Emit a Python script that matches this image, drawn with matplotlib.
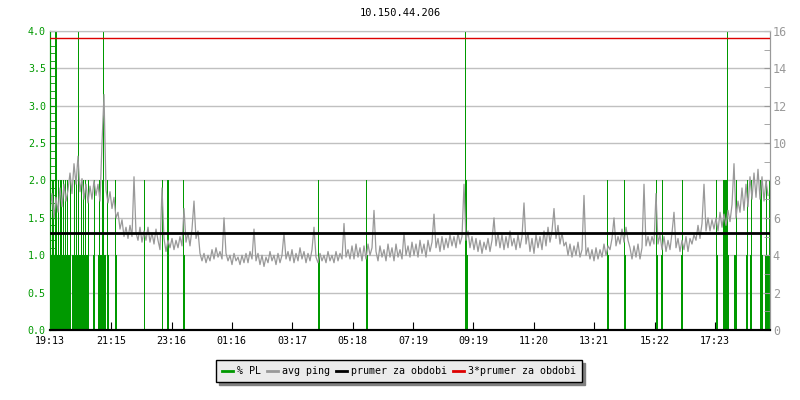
import numpy as np
import matplotlib
matplotlib.use("Agg")
import matplotlib.pyplot as plt
from matplotlib.lines import Line2D
from matplotlib.ticker import MultipleLocator, FormatStrFormatter

# -------------------------------------------------
# Data (minutes since 19:13)
# -------------------------------------------------

TITLE = "10.150.44.206"

tick_minutes = [0, 122, 243, 363, 484, 605, 726, 846, 967, 1088, 1209, 1330]
tick_labels = ["19:13", "21:15", "23:16", "01:16", "03:17", "05:18",
               "07:19", "09:19", "11:20", "13:21", "15:22", "17:23"]

SAMPLE_MIN = 4

# avg ping [ms], one sample every SAMPLE_MIN minutes
ping_ms = [
    6.4, 7.3, 6.0, 7.1, 6.3, 7.6, 6.6, 7.8, 6.9, 7.5, 8.4, 7.3, 8.9, 7.8, 9.3,
    7.4, 8.1, 7.0, 7.8, 6.8, 7.7, 7.0, 8.0, 7.2, 7.8, 6.9, 10.0, 12.6, 7.5, 6.8,
    7.4, 6.5, 7.1, 6.0, 6.3, 5.4, 5.9, 5.0, 5.5, 4.9, 5.6, 5.0, 8.2, 5.2, 4.8,
    5.5, 4.7, 5.3, 4.8, 5.5, 4.7, 5.2, 4.6, 5.4, 4.8, 4.3, 7.6, 4.9, 4.2, 4.8,
    4.4, 4.9, 4.3, 4.8, 4.4, 5.0, 4.5, 6.5, 4.7, 5.2, 4.5, 5.4, 6.9, 4.9, 5.3,
    4.1, 3.7, 4.1, 3.6, 4.0, 3.7, 4.3, 3.8, 4.4, 3.9, 4.2, 3.8, 6.0, 4.1, 3.7,
    4.0, 3.5, 4.1, 3.7, 3.9, 3.5, 4.0, 3.6, 4.1, 3.6, 4.2, 3.8, 5.4, 3.7, 4.1,
    3.5, 4.0, 3.4, 3.9, 3.6, 4.2, 3.7, 4.0, 3.5, 4.1, 3.6, 4.0, 5.2, 3.8, 4.2,
    3.7, 4.3, 3.6, 4.1, 3.7, 4.4, 3.8, 4.2, 3.6, 4.1, 3.7, 4.3, 5.5, 3.9, 3.6,
    4.1, 3.7, 4.0, 3.6, 4.2, 3.7, 4.0, 3.6, 4.2, 3.7, 4.1, 3.8, 5.7, 3.9, 4.3,
    3.8, 4.5, 3.8, 4.6, 3.9, 4.4, 3.7, 4.5, 3.8, 4.6, 4.0, 4.4, 6.4, 4.2, 3.7,
    4.5, 3.9, 4.3, 3.7, 4.6, 3.9, 4.4, 3.7, 4.6, 3.9, 4.3, 3.8, 5.2, 4.0, 4.5,
    3.9, 4.7, 4.0, 4.6, 3.9, 4.8, 4.1, 4.6, 3.9, 4.8, 4.2, 4.7, 6.2, 4.4, 4.9,
    4.2, 5.0, 4.3, 4.9, 4.4, 5.1, 4.5, 5.0, 4.4, 5.2, 4.6, 5.0, 7.8, 4.8, 5.3,
    4.4, 5.0, 4.3, 4.9, 4.2, 4.8, 4.1, 4.7, 4.3, 4.9, 4.2, 4.8, 6.0, 4.5, 5.2,
    4.4, 5.1, 4.3, 5.0, 4.4, 5.3, 4.5, 4.9, 4.3, 5.1, 4.4, 5.0, 6.8, 4.6, 5.2,
    4.2, 4.9, 4.1, 5.1, 4.4, 5.0, 4.3, 5.3, 4.5, 5.5, 4.7, 5.3, 6.5, 4.9, 5.6,
    4.6, 5.2, 4.5, 4.7, 4.0, 4.6, 3.9, 4.5, 4.0, 4.7, 3.9, 4.3, 7.2, 4.0, 4.4,
    3.8, 4.3, 3.7, 4.4, 3.8, 4.3, 3.9, 4.6, 4.0, 4.5, 4.3, 4.9, 6.0, 4.5, 5.0,
    4.6, 5.4, 4.7, 5.5, 4.8, 4.4, 3.8, 4.5, 3.9, 4.6, 3.8, 4.4, 7.8, 4.5, 5.0,
    4.5, 5.0, 4.6, 7.3, 4.6, 5.1, 4.3, 5.0, 4.2, 4.8, 4.3, 5.2, 6.3, 4.4, 4.9,
    4.2, 4.8, 4.3, 5.0, 4.2, 4.9, 4.6, 5.1, 4.8, 5.6, 4.9, 5.7, 7.8, 5.3, 6.0,
    5.3, 5.9, 5.4, 6.0, 5.3, 6.3, 5.5, 6.2, 5.6, 6.4, 5.8, 6.7, 8.9, 6.0, 6.9,
    6.3, 7.6, 6.4, 7.8, 6.6, 8.2, 7.0, 8.4, 7.1, 8.6, 7.0, 8.2, 6.9, 8.0, 7.2,
]

# packet loss [%] events, minutes since start
pl_4_min = [10, 12, 56, 106, 830, 1354]
pl_2_min = [4, 6, 16, 20, 22, 26, 30, 34, 40, 48, 52, 62, 66, 70, 76, 88, 98, 104,
            114, 130, 188, 224, 234, 236, 266, 536, 632, 832, 1114, 1148, 1212, 1224,
            1264, 1332, 1346, 1348, 1350, 1352, 1372, 1394, 1402, 1420, 1422, 1432, 1438]
pl_1_min = [2, 8, 14, 18, 24, 28, 32, 36, 38, 44, 46, 50, 54, 58, 60, 64, 68, 72, 74,
            86, 96, 100, 102, 108, 110, 116, 132, 268, 538, 634, 834, 1116, 1150, 1214,
            1222, 1262, 1334, 1356, 1368, 1370, 1392, 1400, 1424, 1430, 1434, 1436]

avg_ping = 5.2

# -------------------------------------------------
# Style
# -------------------------------------------------

GREEN = "#009900"
GRAY = "#999999"
GRID = "#c0c0c0"
RED = "#dd0000"
FONT = "DejaVu Sans Mono"

plt.rcParams["font.family"] = FONT
plt.rcParams["font.size"] = 7

# -------------------------------------------------
# Plot
# -------------------------------------------------

fig = plt.figure(figsize=(8, 4), dpi=100)
ax = fig.add_axes([0.0625, 0.175, 0.9, 0.7475])
ax2 = ax.twinx()

ax.set_xlim(0, 1440)
ax.set_ylim(0, 4)
ax2.set_ylim(0, 16)

ax.yaxis.set_major_locator(MultipleLocator(0.5))
ax.yaxis.set_minor_locator(MultipleLocator(0.1))
ax.yaxis.set_major_formatter(FormatStrFormatter("%.1f"))
ax2.yaxis.set_major_locator(MultipleLocator(2))
ax2.yaxis.set_minor_locator(MultipleLocator(1))

ax.grid(axis="y", color=GRID, linewidth=1)
ax.set_axisbelow(True)

for level, minutes in [(4, pl_4_min), (2, pl_2_min), (1, pl_1_min)]:
    ax.vlines(minutes, 0, level, color=GREEN, linewidth=0.7, antialiased=False, zorder=2)

ping_min = np.arange(len(ping_ms)) * SAMPLE_MIN
ax2.plot(ping_min, ping_ms, color=GRAY, linewidth=0.9, zorder=2)
ax2.axhline(avg_ping, color="black", linewidth=2, zorder=3)
ax2.axhline(3 * avg_ping, color=RED, linewidth=1, zorder=3)

ax.set_xticks(tick_minutes)
ax.set_xticklabels(tick_labels)
ax.tick_params(axis="x", direction="in", length=6, color="black", labelcolor="black",
               pad=4, labelsize=7.2)
ax.tick_params(axis="y", which="both", direction="in", length=4, color=GREEN,
               labelcolor=GREEN, pad=3, labelsize=7.2)
ax2.tick_params(axis="y", which="both", direction="in", length=4, color=GRAY,
                labelcolor=GRAY, pad=2, labelsize=8.5)

for a in (ax, ax2):
    a.spines["left"].set_color(GREEN)
    a.spines["right"].set_color(GRAY)
    a.spines["bottom"].set_color("black")
    a.spines["top"].set_color(GRID)
    a.spines["bottom"].set_linewidth(1.5)

fig.text(0.5, 0.967, TITLE, ha="center", va="center", fontsize=7.5)

handles = [
    Line2D([], [], color=GREEN, linewidth=2),
    Line2D([], [], color=GRAY, linewidth=2),
    Line2D([], [], color="black", linewidth=2),
    Line2D([], [], color=RED, linewidth=2),
]
labels = ["% PL", "avg ping", "prumer za obdobi", "3*prumer za obdobi"]
leg = fig.legend(handles, labels, loc="center", bbox_to_anchor=(0.499, 0.0725),
                 ncol=4, frameon=True, fancybox=False, handlelength=1.1,
                 handletextpad=0.4, columnspacing=0.6, borderpad=0.6,
                 borderaxespad=0, fontsize=7.2,
                 shadow={"facecolor": "#808080", "edgecolor": "#808080", "alpha": 1})
leg.get_frame().set_facecolor("#ebebeb")
leg.get_frame().set_edgecolor("black")
leg.get_frame().set_linewidth(1)
leg.get_frame().set_alpha(1)

fig.savefig("out.png", dpi=100)
